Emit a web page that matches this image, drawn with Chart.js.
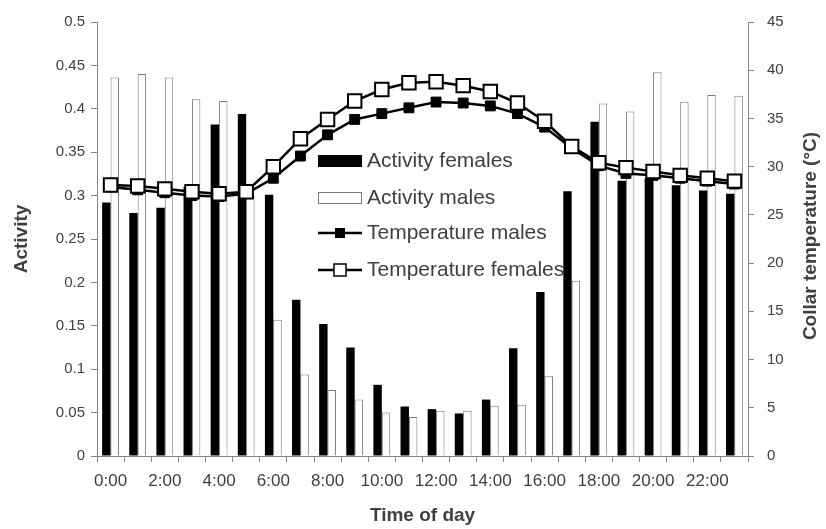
<!DOCTYPE html>
<html>
<head>
<meta charset="utf-8">
<script src="https://cdn.jsdelivr.net/npm/chart.js@4"></script>
<style>
  html, body { margin: 0; padding: 0; background: #fff; }
  #wrap { width: 826px; height: 529px; }
</style>
</head>
<body>
<div id="wrap"><canvas id="myChart" width="826" height="529"></canvas></div>
<script>
// data
const hours = ['0:00','1:00','2:00','3:00','4:00','5:00','6:00','7:00','8:00','9:00','10:00','11:00',
               '12:00','13:00','14:00','15:00','16:00','17:00','18:00','19:00','20:00','21:00','22:00','23:00'];
const activityFemales = [0.292, 0.280, 0.286, 0.310, 0.382, 0.394, 0.301, 0.180, 0.152, 0.125, 0.082, 0.057,
                         0.054, 0.049, 0.065, 0.124, 0.189, 0.305, 0.385, 0.317, 0.320, 0.312, 0.306, 0.302];
const activityMales = [0.436, 0.440, 0.436, 0.411, 0.409, 0.300, 0.157, 0.094, 0.076, 0.065, 0.050, 0.045,
                       0.052, 0.052, 0.058, 0.059, 0.092, 0.202, 0.406, 0.397, 0.442, 0.408, 0.416, 0.415];
const tempMales = [27.9, 27.6, 27.3, 27.0, 26.9, 27.2, 28.8, 31.1, 33.3, 34.9, 35.5, 36.1,
                   36.7, 36.6, 36.3, 35.5, 34.1, 31.9, 30.1, 29.3, 29.1, 28.8, 28.5, 28.2];
const tempFemales = [28.1, 28.0, 27.7, 27.4, 27.2, 27.4, 30.0, 32.9, 34.9, 36.8, 38.0, 38.7,
                     38.8, 38.4, 37.8, 36.6, 34.7, 32.1, 30.4, 29.9, 29.5, 29.1, 28.8, 28.5];
const legendLabels = ['Activity females', 'Activity males', 'Temperature males', 'Temperature females'];

const axisGrey = '#868686';
const textGrey = '#404040';
const tickFont = { family: 'Liberation Sans', size: 15 };
const xTickFont = { family: 'Liberation Sans', size: 17 };
const titleFont = { family: 'Liberation Sans', size: 19, weight: 'bold' };

// legend drawn inside the plot, plus the right title reading bottom to top
const extras = {
    id: 'extras',
    afterDraw(chart) {
        const c = chart.ctx;
        c.save();
        const x0 = 318, w = 44, ys = [161, 198, 233, 270];
        c.font = '21px "Liberation Sans"';
        c.textBaseline = 'middle';
        c.fillStyle = textGrey;
        legendLabels.forEach((t, i) => c.fillText(t, x0 + w + 5, ys[i]));

        c.fillStyle = '#000';
        c.fillRect(x0, ys[0] - 6, w, 12);
        c.fillStyle = '#fff';
        c.strokeStyle = '#7a7a7a';
        c.lineWidth = 1;
        c.fillRect(x0, ys[1] - 6, w, 12);
        c.strokeRect(x0 + 0.5, ys[1] - 5.5, w - 1, 11);

        c.strokeStyle = '#000';
        c.lineWidth = 2.5;
        [2, 3].forEach(i => {
            c.beginPath();
            c.moveTo(x0, ys[i]);
            c.lineTo(x0 + w, ys[i]);
            c.stroke();
        });
        c.fillStyle = '#000';
        c.fillRect(x0 + w / 2 - 5, ys[2] - 5, 10, 10);
        c.fillStyle = '#fff';
        c.lineWidth = 1.5;
        c.fillRect(x0 + w / 2 - 6, ys[3] - 6, 12, 12);
        c.strokeRect(x0 + w / 2 - 6, ys[3] - 6, 12, 12);

        c.translate(811, 236);
        c.rotate(-Math.PI / 2);
        c.font = 'bold 19px "Liberation Sans"';
        c.textAlign = 'center';
        c.fillStyle = textGrey;
        c.fillText('Collar temperature (°C)', 0, 0);
        c.restore();
    }
};

const ctx = document.getElementById('myChart').getContext('2d');
const myChart = new Chart(ctx, {
    data: {
        labels: hours,
        datasets: [
            {
                type: 'line', label: 'Temperature females', data: tempFemales, yAxisID: 'y1', order: 0,
                borderColor: '#000', borderWidth: 2.5, pointStyle: 'rect', pointRadius: 9.5,
                pointBackgroundColor: '#fff', pointBorderColor: '#000', pointBorderWidth: 2
            },
            {
                type: 'line', label: 'Temperature males', data: tempMales, yAxisID: 'y1', order: 1,
                borderColor: '#000', borderWidth: 2.5, pointStyle: 'rect', pointRadius: 7,
                pointBackgroundColor: '#000', pointBorderColor: '#000', pointBorderWidth: 1
            },
            {
                type: 'bar', label: 'Activity females', data: activityFemales, yAxisID: 'y', order: 2,
                backgroundColor: '#000', borderWidth: 0,
                categoryPercentage: 0.62, barPercentage: 1.0
            },
            {
                type: 'bar', label: 'Activity males', data: activityMales, yAxisID: 'y', order: 3,
                backgroundColor: '#fff', borderColor: '#7a7a7a', borderWidth: 1,
                categoryPercentage: 0.62, barPercentage: 1.0
            }
        ]
    },
    options: {
        responsive: false,
        animation: false,
        layout: { padding: { top: 17, left: 0, right: 0, bottom: 0 } },
        plugins: { legend: { display: false }, tooltip: { enabled: false } },
        scales: {
            x: {
                offset: true,
                grid: { offset: true, drawOnChartArea: false, tickLength: 6, color: axisGrey },
                border: { color: axisGrey },
                ticks: {
                    autoSkip: false, maxRotation: 0, padding: 9, color: textGrey, font: xTickFont,
                    callback: (v, i) => (i % 2 === 0 ? hours[i] : '')
                },
                title: { display: true, text: 'Time of day', color: textGrey, font: titleFont, padding: { top: 0, bottom: 2 } },
                afterFit: s => { s.height = 73; }
            },
            y: {
                position: 'left', min: 0, max: 0.5,
                grid: { drawOnChartArea: false, tickLength: 6, color: axisGrey },
                border: { color: axisGrey },
                ticks: {
                    stepSize: 0.05, padding: 6, color: textGrey, font: tickFont,
                    callback: v => String(parseFloat(v.toFixed(2)))
                },
                title: { display: true, text: 'Activity', color: textGrey, font: titleFont, padding: { top: 10, bottom: 0 } },
                afterFit: s => { s.width = 97; }
            },
            y1: {
                position: 'right', min: 0, max: 45,
                grid: { drawOnChartArea: false, tickLength: 6, color: axisGrey },
                border: { color: axisGrey },
                ticks: { stepSize: 5, padding: 13, color: textGrey, font: tickFont },
                afterFit: s => { s.width = 78; }
            }
        }
    },
    plugins: [extras]
});
</script>
</body>
</html>
